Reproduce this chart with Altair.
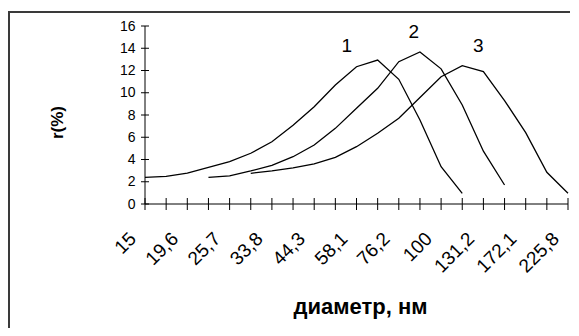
import json
import altair as alt
import pandas as pd

# category axis: 21 positions, labels shown on every other one
n_positions = 21
shown_labels = ["15", "19,6", "25,7", "33,8", "44,3", "58,1", "76,2", "100", "131,2", "172,1", "225,8"]
y_ticks = [0, 2, 4, 6, 8, 10, 12, 14, 16]

# series values (r, %), each starts at a given position
curve1_start = 0
curve1 = [2.40, 2.49, 2.78, 3.30, 3.80, 4.56, 5.60, 7.07, 8.75, 10.70, 12.34, 12.94, 11.21, 7.55, 3.35, 0.96]
curve2_start = 3
curve2 = [2.40, 2.52, 2.97, 3.48, 4.25, 5.30, 6.80, 8.60, 10.40, 12.79, 13.66, 12.15, 8.90, 4.75, 1.71]
curve3_start = 5
curve3 = [2.76, 2.97, 3.25, 3.60, 4.20, 5.15, 6.36, 7.70, 9.57, 11.44, 12.43, 11.90, 9.30, 6.42, 2.85, 0.96]

# curve number labels
label_text = ["1", "2", "3"]
label_x = [9.54, 12.71, 15.76]
label_y = [14.17, 15.49, 14.20]

rows = []
for name, start, vals in [("1", curve1_start, curve1), ("2", curve2_start, curve2), ("3", curve3_start, curve3)]:
    for k, v in enumerate(vals):
        rows.append({"curve": name, "pos": start + k, "r": v})
df = pd.DataFrame(rows)
lab_df = pd.DataFrame({"t": label_text, "pos": label_x, "r": label_y})
xt_df = pd.DataFrame({"pos": list(range(n_positions))})
yt_df = pd.DataFrame({"r": y_ticks})
one = pd.DataFrame({"a": [0]})

FONT = "Liberation Sans"
label_expr = "datum.value % 2 == 0 ? " + json.dumps(shown_labels) + "[datum.value / 2] : ''"

x_scale = alt.Scale(domain=[0, n_positions - 1], nice=False, zero=False)
y_scale = alt.Scale(domain=[0, 16], nice=False)

x_axis = alt.Axis(
    values=list(range(n_positions)), labelExpr=label_expr, title="диаметр, нм",
    ticks=False, domain=False, grid=False,
)
y_axis = alt.Axis(
    values=y_ticks, title="r(%)",
    ticks=False, domain=False, grid=False,
)

frame = alt.Chart(one).mark_rect(filled=False, stroke="#3a3a3a", strokeWidth=2).encode(
    x=alt.value(-136), x2=alt.value(800), y=alt.value(-14), y2=alt.value(600)
)
xdomain = alt.Chart(one).mark_rule(color="black", strokeWidth=1).encode(
    y=alt.YDatum(0, type="quantitative", scale=y_scale, axis=y_axis)
)
ydomain = alt.Chart(one).mark_rule(color="black", strokeWidth=1).encode(
    x=alt.XDatum(0, type="quantitative", scale=x_scale, axis=x_axis)
)
xticks = alt.Chart(xt_df).mark_tick(orient="vertical", size=12, thickness=1, color="black", opacity=1).encode(
    x=alt.X("pos:Q", scale=x_scale, axis=x_axis),
    y=alt.YDatum(0, type="quantitative", scale=y_scale, axis=y_axis),
)
yticks = alt.Chart(yt_df).mark_tick(orient="horizontal", size=8, thickness=1, color="black", opacity=1).encode(
    y=alt.Y("r:Q", scale=y_scale, axis=y_axis),
    x=alt.XDatum(0, type="quantitative", scale=x_scale, axis=x_axis),
)

lines = alt.Chart(df).mark_line(color="black", strokeWidth=1.3).encode(
    x=alt.X("pos:Q", scale=x_scale, axis=x_axis),
    y=alt.Y("r:Q", scale=y_scale, axis=y_axis),
    detail="curve:N",
)
texts = alt.Chart(lab_df).mark_text(font=FONT, fontSize=19, color="black", align="center", baseline="middle").encode(
    x=alt.X("pos:Q", scale=x_scale, axis=x_axis),
    y=alt.Y("r:Q", scale=y_scale, axis=y_axis),
    text="t:N",
)

chart = alt.layer(lines, xdomain, ydomain, xticks, yticks, texts, frame).properties(
    width=423, height=178,
    autosize=alt.AutoSizeParams(type="none"),
    padding={"left": 137, "top": 18, "right": 2, "bottom": 124},
    background="white",
).configure_view(stroke=None).configure_axis(
    labelFont=FONT, titleFont=FONT, labelColor="black", titleColor="black",
    labelOverlap=False, labelFlush=False, titleFontWeight="bold",
).configure_axisX(
    labelAngle=315, labelAlign="right", labelBaseline="top",
    labelPadding=25, labelOffset=-19, labelFontSize=19,
    titleFontSize=22, titleX=215, titleY=109, titleAlign="center", titleBaseline="alphabetic",
).configure_axisY(
    labelPadding=10, labelFontSize=14,
    titleFontSize=17, titleAngle=270, titleX=-82.5, titleY=96,
    titleAlign="center", titleBaseline="alphabetic",
)

chart.save("out.html", embed_options={"renderer": "svg", "actions": False})
